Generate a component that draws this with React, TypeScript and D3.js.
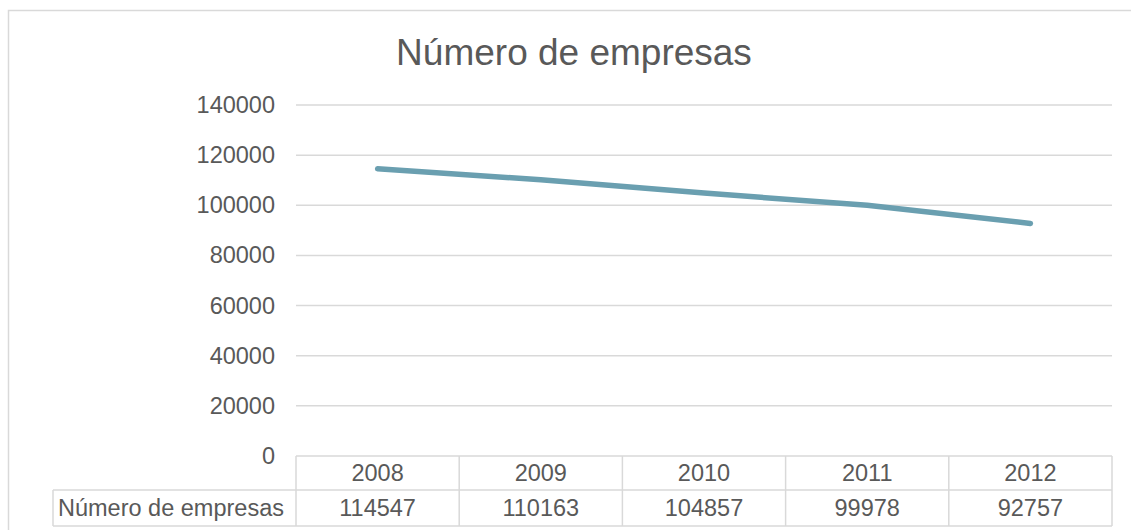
import React from "react";
import * as d3 from "d3";

const title = "Número de empresas";
const seriesName = "Número de empresas";
const categories = ["2008", "2009", "2010", "2011", "2012"];
const values = [114547, 110163, 104857, 99978, 92757];
const yTicks = [0, 20000, 40000, 60000, 80000, 100000, 120000, 140000];

const W = 1131;
const H = 530;
const plotLeft = 296;
const plotRight = 1112;
const plotTop = 105;
const plotBottom = 456;
const row1Bottom = 490;
const row2Bottom = 526;
const headerLeft = 53;
const gridColor = "#d9d9d9";
const textColor = "#595959";
const font = "'Liberation Sans', Arial, sans-serif";

export default function App() {
  const x = d3.scaleBand<string>().domain(categories).range([plotLeft, plotRight]).padding(0);
  const y = d3.scaleLinear().domain([0, 140000]).range([plotBottom, plotTop]);
  const line = d3
    .line<number>()
    .x((_, i) => (x(categories[i]) as number) + x.bandwidth() / 2)
    .y((d) => y(d));

  const bounds = categories.map((c) => x(c) as number).concat([plotRight]);

  return (
    <svg
      width={W}
      height={H}
      style={{ position: "absolute", left: 0, top: 0, display: "block" }}
      fontFamily={font}
    >
      <rect x={0} y={0} width={W} height={H} fill="#fff" />
      <rect x={8.5} y={10.5} width={W + 20} height={H + 20} fill="none" stroke={gridColor} strokeWidth={1.5} />
      <text x={574} y={65} textAnchor="middle" fontSize={37} fill={textColor}>
        {title}
      </text>
      {yTicks.map((t) => (
        <g key={t}>
          {t > 0 && (
            <line x1={plotLeft} x2={plotRight} y1={y(t)} y2={y(t)} stroke={gridColor} strokeWidth={1.5} />
          )}
          <text x={275} y={y(t) + 8} textAnchor="end" fontSize={23.5} fill={textColor}>
            {t}
          </text>
        </g>
      ))}
      {/* data table */}
      <line x1={plotLeft} x2={plotRight} y1={plotBottom} y2={plotBottom} stroke={gridColor} strokeWidth={1.5} />
      <line x1={headerLeft} x2={plotRight} y1={row1Bottom} y2={row1Bottom} stroke={gridColor} strokeWidth={1.5} />
      <line x1={headerLeft} x2={plotRight} y1={row2Bottom} y2={row2Bottom} stroke={gridColor} strokeWidth={1.5} />
      <line x1={headerLeft} x2={headerLeft} y1={row1Bottom} y2={row2Bottom} stroke={gridColor} strokeWidth={1.5} />
      {bounds.map((b, i) => (
        <line key={i} x1={b} x2={b} y1={plotBottom} y2={row2Bottom} stroke={gridColor} strokeWidth={1.5} />
      ))}
      {categories.map((c, i) => (
        <g key={c}>
          <text
            x={(x(c) as number) + x.bandwidth() / 2}
            y={481}
            textAnchor="middle"
            fontSize={23.5}
            fill={textColor}
          >
            {c}
          </text>
          <text
            x={(x(c) as number) + x.bandwidth() / 2}
            y={516}
            textAnchor="middle"
            fontSize={23.5}
            fill={textColor}
          >
            {values[i]}
          </text>
        </g>
      ))}
      <text x={58} y={516} fontSize={23.5} fill={textColor}>
        {seriesName}
      </text>
      <path
        d={line(values) || ""}
        fill="none"
        stroke="#6a9fb0"
        strokeWidth={5.5}
        strokeLinecap="round"
        strokeLinejoin="round"
      />
    </svg>
  );
}
